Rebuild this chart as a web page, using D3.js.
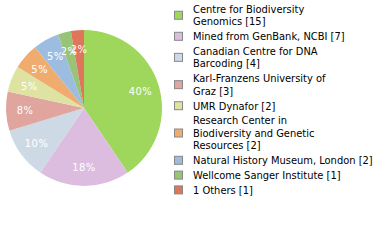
<!DOCTYPE html>
<html>
<head>
<meta charset="utf-8">
<script src="https://cdn.jsdelivr.net/npm/d3@7.9.0/dist/d3.min.js"></script>
<style>
  body { margin: 0; background: #fff; }
  svg { display: block; font-family: "DejaVu Sans Condensed", "DejaVu Sans", sans-serif; }
</style>
</head>
<body>
<svg id="chart" width="380" height="240"></svg>
<script>
// Data
const labels = [
    ["Centre for Biodiversity", "Genomics [15]"],
    ["Mined from GenBank, NCBI [7]"],
    ["Canadian Centre for DNA", "Barcoding [4]"],
    ["Karl-Franzens University of", "Graz [3]"],
    ["UMR Dynafor [2]"],
    ["Research Center in", "Biodiversity and Genetic", "Resources [2]"],
    ["Natural History Museum, London [2]"],
    ["Wellcome Sanger Institute [1]"],
    ["1 Others [1]"]
];
const counts = [15, 7, 4, 3, 2, 2, 2, 1, 1];
const colors = ["#9fd75c", "#dcbde0", "#cddae6", "#dfa59e", "#dee3a1",
                "#f0ac6e", "#9dbde0", "#98c47a", "#df755a"];

const svg = d3.select("#chart");
const cx = 84, cy = 108, r = 78;

const total = d3.sum(counts);
const items = counts.map((v, i) => ({ v, i }));

const pie = d3.pie().value(d => d.v).sort(null);
const arc = d3.arc().innerRadius(0).outerRadius(r);
const labelArc = d3.arc().innerRadius(59).outerRadius(59);

const g = svg.append("g").attr("transform", `translate(${cx},${cy})`);

const slices = pie(items);

g.selectAll("path")
    .data(slices)
    .enter()
    .append("path")
    .attr("d", arc)
    .attr("fill", d => colors[d.data.i]);

// percentages are truncated, not rounded
g.selectAll("text")
    .data(slices)
    .enter()
    .append("text")
    .attr("transform", d => `translate(${labelArc.centroid(d)})`)
    .attr("text-anchor", "middle")
    .attr("dy", "0.35em")
    .attr("fill", "#fff")
    .style("font-size", "11px")
    .style("letter-spacing", "0.5px")
    .text(d => Math.floor(d.data.v / total * 100) + "%");

// Legend
const legend = svg.append("g");
const lineH = 12.5, gap = 2.3;
let y = 9;
labels.forEach((lines, i) => {
    const top = y;
    lines.forEach((line, j) => {
        legend.append("text")
            .attr("x", 193)
            .attr("y", y)
            .attr("dy", "0.35em")
            .attr("fill", "#000")
            .style("font-size", "11px")
            .text(line);
        if (j < lines.length - 1) y += lineH;
    });
    const mid = (top + y) / 2;
    legend.append("rect")
        .attr("x", 174.5)
        .attr("y", mid - 4)
        .attr("width", 8)
        .attr("height", 8)
        .attr("fill", colors[i])
        .attr("stroke", "#888")
        .attr("stroke-width", 1);
    y += lineH + gap;
});
</script>
</body>
</html>
